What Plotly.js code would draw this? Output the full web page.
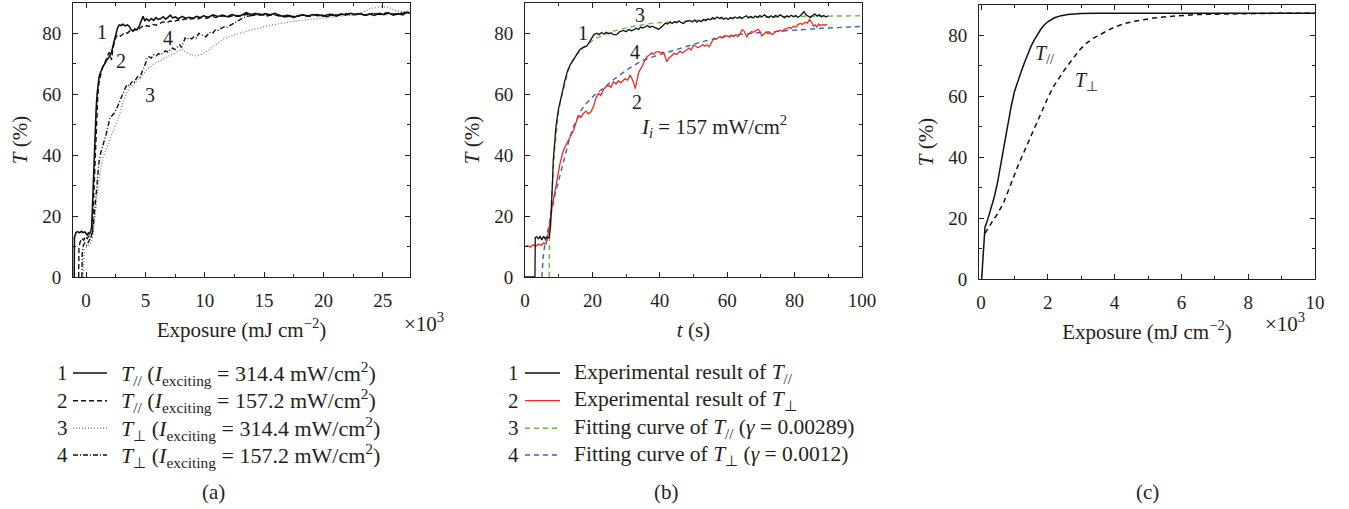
<!DOCTYPE html>
<html>
<head>
<meta charset="utf-8">
<script src="https://cdn.plot.ly/plotly-3.0.1.min.js"></script>
<style>
  html, body { margin: 0; padding: 0; background: #fff; }
  #chart { width: 1349px; height: 509px; }
</style>
</head>
<body>
<div id="chart"></div>
<script>
// ---------- (a) transmittance vs exposure (x in units of 10^3 mJ/cm^2) ----------
const aX1 = [-1.0,-0.98,-0.85,-0.7,-0.55,-0.4,-0.25,-0.1,0.0,0.1,0.2,0.3,0.4,0.47,0.55,0.62,0.7,0.77,0.85,0.93,1.0,1.1,1.2,1.3,1.45,1.6,1.75,1.9,2.05,2.15,2.25,2.35,2.45,2.55,2.65,2.8,2.95,3.1,3.3,3.5,3.65,3.8,3.95,4.1,4.3,4.5,4.65,4.8,4.95,5.1,5.3,5.5,5.7,5.9,6.1,6.3,6.5,6.7,6.9,7.1,7.3,7.5,7.8,8.1,8.4,8.7,9.0,9.3,9.6,9.9,10.3,10.7,11.1,11.5,11.9,12.3,12.7,13.1,13.5,13.9,14.3,14.7,15.1,15.5,15.9,16.3,16.7,17.1,17.5,17.9,18.3,18.7,19.1,19.5,19.9,20.3,20.7,21.1,21.5,21.9,22.3,22.7,23.1,23.5,23.9,24.3,24.7,25.1,25.5,25.9,26.3,26.7,27.0,27.3];
const aY1 = [0,13,14.6,14.9,14.5,15.0,14.6,14.8,14.3,13.8,14.5,14.2,15.1,16.2,24,32,41,48,55,60,63,65.8,67,68.2,69.3,70.2,71.4,72,73,73.8,75.6,77.2,78.6,80.4,81.8,82.8,82.6,83,82.5,82.8,82.3,81.2,80.8,81.5,81.2,82.6,84.3,85.6,84.2,84.8,84.1,84.9,84.3,85.2,84.6,84.9,85.5,84.7,85.3,86.0,85.1,85.4,84.8,85.6,85.0,85.3,84.9,85.6,85.2,85.8,85.3,86.1,85.6,86.0,85.5,86.2,85.7,86.0,86.8,86.2,86.6,86.0,86.5,86.1,86.6,85.9,85.4,85.7,85.3,85.8,86.1,85.7,86.2,85.8,86.0,85.5,86.1,85.7,86.4,86.0,86.6,86.2,86.5,86.0,86.4,85.9,86.6,86.2,86.7,86.0,86.5,86.1,87.0,86.6];

const aX2 = [-0.62,-0.6,-0.5,-0.35,-0.2,-0.05,0.1,0.25,0.4,0.5,0.58,0.66,0.74,0.82,0.9,0.98,1.08,1.2,1.35,1.5,1.65,1.8,1.95,2.05,2.15,2.25,2.35,2.45,2.6,2.75,2.9,3.1,3.3,3.5,3.7,3.9,4.1,4.3,4.5,4.7,4.9,5.1,5.3,5.6,5.9,6.2,6.5,6.8,7.1,7.4,7.7,8.0,8.3,8.6,9.0,9.4,9.8,10.2,10.6,11.0,11.5,12.0,12.5,13.0,13.5,14.0,14.6,15.2,15.8,16.4,17.0,17.6,18.2,18.8,19.4,20.0,20.6,21.2,21.8,22.4,23.0,23.6,24.2,24.8,25.4,26.0,26.6,27.2];
const aY2 = [0,9.5,11.5,12.8,12.1,13.4,12.6,13.5,12.8,14.5,20,28,37,46,53,59,63.5,66.2,68.5,69.6,71,72.3,73.8,72.6,71.3,74.8,76.5,78.2,79.2,79.6,79.1,79.8,80.4,80.1,80.9,80.5,81.3,81.0,81.8,82.3,82.0,82.6,82.3,83.0,82.7,83.3,83.8,83.5,84.1,83.8,84.4,84.1,84.8,84.5,85.0,84.7,85.3,85.0,85.6,85.2,85.8,85.4,86.0,85.6,86.3,85.9,86.4,85.8,86.2,85.6,85.9,85.4,86.0,85.6,86.1,85.7,86.3,85.9,86.5,86.1,86.4,86.0,86.6,86.2,86.8,86.3,86.7,87.0];

const aX3 = [-0.25,-0.22,-0.15,0.0,0.15,0.3,0.45,0.55,0.65,0.75,0.85,0.95,1.05,1.15,1.3,1.45,1.6,1.8,2.0,2.2,2.4,2.6,2.8,3.0,3.2,3.4,3.6,3.8,4.0,4.2,4.4,4.6,4.8,5.0,5.2,5.4,5.7,6.0,6.3,6.6,6.9,7.2,7.5,7.8,8.1,8.4,8.7,9.0,9.3,9.6,10.0,10.4,10.8,11.2,11.6,12.0,12.4,12.8,13.2,13.6,14.0,14.5,15.0,15.5,16.0,16.5,17.0,17.5,18.0,18.5,19.0,19.5,20.0,20.5,21.0,21.5,22.0,22.5,23.0,23.5,24.0,24.5,25.0,25.5,26.0,26.5,27.0,27.3];
const aY3 = [0,7,9,9.6,10.3,10.9,11.5,13,16,19.5,23,27,30,33.5,37,39.5,41,43,45,47,49,50.5,53,56,58.5,60.5,61.8,62.8,63.3,63.8,64.5,65.5,66.5,67.5,68.4,69,70,70.6,71.2,72,72.6,73.1,73.6,74.2,74.8,73.9,73.2,72.8,72.6,72.9,73.7,74.8,76,77.2,78.2,78.9,79.4,80,80.4,80.8,81.2,81.8,82.2,82.7,83.1,83.4,83.7,84,84.2,84.4,84.6,84.8,85,85.2,85.3,85.5,85.7,86.1,86.5,87.3,88.2,88.5,88.8,88.6,87.5,87.3,87.1,87.2];

const aX4 = [-0.35,-0.32,-0.22,-0.1,0.05,0.2,0.35,0.5,0.6,0.68,0.78,0.88,0.98,1.1,1.25,1.4,1.55,1.7,1.85,2.0,2.15,2.3,2.45,2.6,2.75,2.9,3.05,3.2,3.35,3.5,3.65,3.8,3.95,4.1,4.25,4.4,4.55,4.7,4.85,5.0,5.15,5.3,5.5,5.7,5.9,6.1,6.3,6.5,6.7,6.9,7.1,7.3,7.5,7.7,7.9,8.05,8.2,8.35,8.5,8.7,8.9,9.1,9.3,9.5,9.7,9.9,10.1,10.3,10.5,10.7,10.9,11.1,11.3,11.5,11.7,11.9,12.1,12.3,12.5,12.7,12.9,13.1,13.3,13.5,14.0,14.6,15.2,15.8,16.4,17.0,17.6,18.2,18.8,19.4,20.0,20.6,21.2,21.8,22.4,23.0,23.6,24.2,24.8,25.4,26.0,26.6,27.2];
const aY4 = [0,8,10.5,11.2,10.4,11.8,12.6,13.5,16,20,25,30,34,38,41,43.5,45,47,49.5,52,52.8,53.5,54.2,55.5,57,58.3,60,61.6,62.5,63.2,62.6,63.8,64.5,64,65.3,66,65.5,67.2,68.5,70,71.8,72.4,71.9,73,72.6,73.4,73,73.8,74.3,73.9,74.8,75.2,74.7,75.6,76.2,75.4,77,78.5,78,78.6,78.2,79,78.5,80.1,79.6,79.2,78.9,79.8,80.5,80.2,81.2,81,81.6,81.9,82.3,82.1,82.6,82.9,83.4,83.9,84.5,84.8,85.2,85.6,85.9,86.3,85.8,86.2,85.7,86.0,85.5,86.1,85.6,86.2,85.8,86.4,86.0,86.5,86.1,86.5,86.0,86.6,86.2,86.7,86.3,86.6,86.9];

// ---------- (b) transmittance vs time, experiment and fitted curves ----------
const bX1 = [0,2.95,3.05,3.5,4.0,4.5,5.0,5.5,6.0,6.5,7.0,7.2,7.6,7.9,8.15,8.4,8.8,9.2,9.9,10.9,11.9,12.6,13.4,14.4,15.3,16.3,17.3,18.3,19.0,19.8,20.5,21.3,22.0,22.7,23.4,24.1,24.8,25.5,26.2,27.2,28.0,29.2,30.0,30.8,31.5,32.2,33.0,33.7,34.3,35.0,35.7,36.3,37.0,37.7,38.3,39.0,39.6,40.3,41.0,41.7,42.3,43.0,43.7,44.3,45.0,45.7,46.3,47.0,47.7,48.3,49.0,49.7,50.3,51.0,51.7,52.3,53.0,53.7,54.3,55.0,55.7,56.3,57.0,57.7,58.3,59.0,59.7,60.3,61.0,61.7,62.3,63.0,63.7,64.3,65.0,65.7,66.3,67.0,67.7,68.3,69.0,69.7,70.3,71.0,71.7,72.3,73.0,73.7,74.3,75.0,75.7,76.3,77.0,77.7,78.3,79.0,79.7,80.3,81.0,81.7,82.3,82.8,83.3,84.0,84.7,85.3,86.0,86.7,87.3,88.0,88.7,89.3,90.0];
const bY1 = [0,0,13,13.2,12.6,13.3,12.2,13.4,12.5,13.1,12.8,13,17,23,31,38.5,44.5,49.4,55,60.4,64.8,67.6,69.7,71.4,73.2,74.7,75.4,75.8,77,78.5,79.7,80.1,79.6,80.3,79.8,80.4,79.9,80.2,79.6,79.6,80.5,81,80.6,81.3,80.9,81.2,81.7,81.3,82.1,81.8,82.3,82.6,82.0,82.4,82.1,81.6,81.4,81.9,82.6,83.4,83.1,83.7,83.3,83.9,83.5,84.1,83.6,83.3,83.9,84,84.2,83.8,84.4,83.7,84.3,83.9,84.6,84.2,84.8,84.5,85.2,84.8,85.4,84.9,85.3,84.7,85.1,84.6,85.2,84.8,85.4,85.0,85.5,84.9,85.3,85.8,85.2,85.6,85.1,85.7,85.3,85.9,85.4,86.1,85.6,85.2,85.8,85.3,85.9,85.5,86.1,85.6,85.2,85.8,85.4,86.0,85.5,85.9,85.3,85.8,86.4,87.2,86.2,85.6,85.2,85.9,86.4,85.7,86.1,85.5,85.9,85.4,85.8];

const bX2 = [0,0.8,1.6,2.4,3.2,4.0,4.8,5.6,6.2,6.6,7.0,7.4,7.9,8.4,8.9,9.4,9.9,10.4,10.9,11.4,12.1,12.9,13.6,14.4,15.1,15.8,16.5,17.3,18.1,18.8,19.5,20.3,21.0,21.8,22.5,23.3,24.0,24.8,25.5,26.2,27.0,27.7,28.4,29.1,29.7,30.4,31.2,31.7,32.2,32.7,33.2,33.7,34.2,34.7,35.4,36.1,36.8,37.5,38.1,38.8,39.6,40.3,41.1,41.6,42.1,42.6,43.1,43.6,44.3,45.0,46.0,46.7,47.3,48.0,48.7,49.3,50.0,50.7,51.3,52.0,52.7,53.3,54.0,54.7,55.3,56.0,56.7,57.3,57.9,58.6,59.2,59.9,60.6,61.2,61.9,62.6,63.2,63.9,64.4,64.9,65.4,65.8,66.4,67.1,67.8,68.5,69.3,69.8,70.3,70.8,71.5,72.1,72.8,73.4,74.3,75.0,75.7,76.4,77.0,77.7,78.4,79.0,79.7,80.4,81.0,81.7,82.3,83.2,83.8,84.4,84.7,85.1,85.6,86.1,86.6,87.1,87.6,88.2,88.8,89.6];
const bY2 = [10,10.3,9.8,10.6,10.1,10.8,10.4,11.2,10.8,12.4,15,18.6,22,25.2,28.5,31.8,34.6,37.3,39.5,41.6,43.2,45,46.4,48.2,50.6,53,52.4,53.7,54.5,53.6,54.2,55.9,58.6,60.3,59.6,61.7,62.4,63,62.3,64.1,63.4,64.5,63.8,64.7,65.2,64.6,66.3,65.2,64,61.9,64.5,67,68.2,69,70.8,72.3,72.8,73.6,73.1,73.9,74,73.6,73.8,72.4,70.7,71.8,72.4,72.9,73.5,73.1,74.2,73.6,74.1,74.5,75.2,74.6,76.2,75.8,75.3,75.7,76.3,75.9,76.2,75.6,77.1,78.4,78.1,78.7,79,78.5,79.3,79.2,78.8,79.5,79,79.6,78.9,80,81.2,81,79.8,78.9,79.8,80.6,80.4,81,81.3,80.5,79.2,79.6,80.4,80,80.2,79.6,80.5,80.8,81,80.7,81.4,81.6,82,81.7,82.4,82.1,82.9,83.3,83,83.7,83.4,84.6,84.2,83.5,82.4,82.8,82.1,83.1,82.6,82.9,82.7,83];

const bX3 = [7.2,7.25,7.5,7.8,8.1,8.4,8.8,9.3,9.9,10.6,11.4,12.1,12.9,13.8,14.9,16.5,18.3,20.2,22.3,25,28.2,33,38.1,45,53,60,70,80,90,100];
const bY3 = [0,12.2,17,24,30,36,42,48,53.8,58,61.5,65,68,70.5,72.5,74.7,76.3,77.8,79,80.3,81.4,82.5,83.4,84,84.5,85,85.4,85.6,85.7,85.8];

const bX4 = [5.0,5.2,5.45,5.8,6.2,6.8,7.4,8.1,8.9,9.6,10.4,11.4,12.4,13.4,14.4,15.6,16.8,18,19.3,21,23.3,26.2,30.2,34.2,38.1,43.1,48,52.9,58,64,70,76,82,88,94,100];
const bY4 = [0,3.5,7.2,10,12.2,15.5,18.8,23,27,30,33.5,38.5,42.9,46.3,49.4,52.5,55,56.8,58.2,60.2,62,64.8,68,70.8,72.4,74.1,75.8,77.4,78.6,79.7,80.3,80.8,81.3,81.7,82,82.3];

// ---------- (c) calculated transmittance vs exposure (x in units of 10^3 mJ/cm^2) ----------
const cX1 = [0,0.02,0.06,0.12,0.2,0.3,0.4,0.5,0.6,0.7,0.8,0.9,1.0,1.1,1.2,1.3,1.4,1.5,1.6,1.7,1.8,1.9,2.0,2.2,2.4,2.6,2.8,3.0,3.5,4,5,6,8,10];
const cY1 = [0,0,7,17,19.5,23,27,32,38,44,51,56.5,61.5,65,68,71,73.8,76.5,78.6,80.6,82.2,83.5,84.5,85.8,86.5,86.9,87.1,87.2,87.25,87.3,87.3,87.3,87.3,87.3];
const cX2 = [0.12,0.2,0.37,0.5,0.67,0.8,0.97,1.1,1.27,1.4,1.57,1.7,1.87,2.0,2.17,2.3,2.47,2.6,2.76,2.95,3.16,3.35,3.56,3.8,4.06,4.3,4.56,4.85,5.16,5.6,6.06,6.5,7.06,8,9,10];
const cY2 = [15,16.5,19.4,21.5,24.9,28.5,33.6,37,41.3,44.6,49,52.4,56.7,59.5,63.2,65.5,68.2,70.2,72.5,75.2,77.5,79,80.2,81.7,83,83.9,84.6,85.2,85.7,86.2,86.6,86.9,87,87.2,87.3,87.3];

// ---------- text ----------
const legendA = [
  ['1', '<i>T</i><sub>//</sub> (<i>I</i><sub>exciting</sub> = 314.4 mW/cm<sup>2</sup>)'],
  ['2', '<i>T</i><sub>//</sub> (<i>I</i><sub>exciting</sub> = 157.2 mW/cm<sup>2</sup>)'],
  ['3', '<i>T</i><sub>⊥</sub> (<i>I</i><sub>exciting</sub> = 314.4 mW/cm<sup>2</sup>)'],
  ['4', '<i>T</i><sub>⊥</sub> (<i>I</i><sub>exciting</sub> = 157.2 mW/cm<sup>2</sup>)']
];
const legendB = [
  ['1', 'Experimental result of <i>T</i><sub>//</sub>'],
  ['2', 'Experimental result of <i>T</i><sub>⊥</sub>'],
  ['3', 'Fitting curve of <i>T</i><sub>//</sub> (<i>γ</i> = 0.00289)'],
  ['4', 'Fitting curve of <i>T</i><sub>⊥</sub> (<i>γ</i> = 0.0012)']
];
const curveLabelsA = [['1', 1.32, 80.5], ['2', 2.95, 71], ['3', 5.4, 59.8], ['4', 6.9, 78.4]];
const curveLabelsB = [['1', 17.3, 80], ['3', 34.2, 86.2], ['4', 32.7, 74], ['2', 33.2, 57.5]];
const curveLabelsC = [['<i>T</i><sub>//</sub>', 1.9, 73.6], ['<i>T</i><sub>⊥</sub>', 3.15, 64.9]];

// ---------- styling ----------
const FONT = 'Liberation Serif';
const INK = '#231f20';
const W = 1349, H = 509;
const px = v => v / W;
const py = v => 1 - v / H;

const styleA = [
  {color: '#111', width: 1.6, dash: 'solid'},
  {color: '#111', width: 1.4, dash: '5px,3px'},
  {color: '#8a8a8a', width: 1.4, dash: '1px,2px'},
  {color: '#111', width: 1.4, dash: '5px,2px,1px,2px'}
];
const styleB = [
  {color: '#111', width: 1.3, dash: 'solid'},
  {color: '#ee2a24', width: 1.3, dash: 'solid'},
  {color: '#62bd45', width: 1.4, dash: '5px,4px'},
  {color: '#3b62c4', width: 1.4, dash: '5px,4px'}
];

const traces = [];
[[aX1, aY1], [aX2, aY2], [aX3, aY3], [aX4, aY4]].forEach((d, i) => {
  traces.push({x: d[0], y: d[1], xaxis: 'x', yaxis: 'y', mode: 'lines',
    line: styleA[i], hoverinfo: 'skip', showlegend: false});
});
// draw order in (b): fits under the measured curves
[[bX3, bY3, 2], [bX4, bY4, 3], [bX2, bY2, 1], [bX1, bY1, 0]].forEach(d => {
  traces.push({x: d[0], y: d[1], xaxis: 'x2', yaxis: 'y2', mode: 'lines',
    line: styleB[d[2]], hoverinfo: 'skip', showlegend: false});
});
traces.push({x: cX1, y: cY1, xaxis: 'x3', yaxis: 'y3', mode: 'lines',
  line: {color: '#111', width: 1.5}, hoverinfo: 'skip', showlegend: false});
traces.push({x: cX2, y: cY2, xaxis: 'x3', yaxis: 'y3', mode: 'lines',
  line: {color: '#111', width: 1.5, dash: '5px,4px'}, hoverinfo: 'skip', showlegend: false});

function xAxis(dom, range, dtick, minor, anchor, title) {
  return {
    domain: dom, range: range, anchor: anchor, tick0: 0, dtick: dtick,
    ticks: 'inside', ticklen: 5, tickwidth: 1, tickcolor: INK,
    minor: {dtick: minor, ticks: 'inside', ticklen: 3, tickwidth: 1, tickcolor: INK},
    showline: true, linecolor: INK, linewidth: 1, mirror: 'ticks',
    showgrid: false, zeroline: false, ticklabelstandoff: 6,
    tickfont: {family: FONT, size: 19, color: INK},
    title: {text: title, standoff: 12, font: {family: FONT, size: 21, color: INK}}
  };
}
function yAxis(dom, anchor) {
  return {
    domain: dom, range: [0, 90], anchor: anchor, tick0: 0, dtick: 20,
    ticks: 'inside', ticklen: 5, tickwidth: 1, tickcolor: INK,
    minor: {dtick: 10, ticks: 'inside', ticklen: 3, tickwidth: 1, tickcolor: INK},
    showline: true, linecolor: INK, linewidth: 1, mirror: 'ticks',
    showgrid: false, zeroline: false, ticklabelstandoff: 7,
    tickfont: {family: FONT, size: 19, color: INK},
    title: {text: '<i>T</i> (%)', standoff: 8, font: {family: FONT, size: 21, color: INK}}
  };
}

const expTitle = 'Exposure (mJ cm<sup>−2</sup>)';
const layout = {
  width: W, height: H,
  margin: {l: 0, r: 0, t: 0, b: 0},
  paper_bgcolor: '#fff', plot_bgcolor: '#fff',
  showlegend: false,
  font: {family: FONT, color: INK},
  xaxis: xAxis([px(73), px(410)], [-1.1, 27.3], 5, 2.5, 'y', expTitle),
  yaxis: yAxis([py(277), py(3)], 'x'),
  xaxis2: xAxis([px(525), px(862)], [0, 100], 20, 10, 'y2', '<i>t</i> (s)'),
  yaxis2: yAxis([py(277), py(3)], 'x2'),
  xaxis3: xAxis([px(979), px(1315)], [-0.06, 10], 2, 1, 'y3', expTitle),
  yaxis3: yAxis([py(279), py(5)], 'x3'),
  annotations: [],
  shapes: []
};

const ann = layout.annotations;
const txt = (s, o) => Object.assign({text: s, showarrow: false,
  font: {family: FONT, size: 21, color: INK}}, o);

// curve numbers inside the panels
curveLabelsA.forEach(l => ann.push(txt(l[0], {x: l[1], y: l[2], xref: 'x', yref: 'y', font: {family: FONT, size: 20, color: INK}})));
curveLabelsB.forEach(l => ann.push(txt(l[0], {x: l[1], y: l[2], xref: 'x2', yref: 'y2', font: {family: FONT, size: 20, color: INK}})));
curveLabelsC.forEach(l => ann.push(txt(l[0], {x: l[1], y: l[2], xref: 'x3', yref: 'y3', font: {family: FONT, size: 20, color: INK}})));
ann.push(txt('<i>I<sub>i</sub></i> = 157 mW/cm<sup>2</sup>', {x: 56, y: 49.5, xref: 'x2', yref: 'y2'}));

// multipliers under the exposure axes
ann.push(txt('×10<sup>3</sup>', {x: px(402), y: py(322), xref: 'paper', yref: 'paper'}));
ann.push(txt('×10<sup>3</sup>', {x: px(1307), y: py(322), xref: 'paper', yref: 'paper'}));

// keys below panels (a) and (b)
const rowY = [373, 400.7, 428.3, 455];
function key(list, styles, numX, lineX0, lineX1, textX, size) {
  list.forEach((row, i) => {
    ann.push(txt(row[0], {x: px(numX), y: py(rowY[i]), xref: 'paper', yref: 'paper', xanchor: 'center', yanchor: 'middle'}));
    ann.push(txt(row[1], {x: px(textX), y: py(rowY[i]), xref: 'paper', yref: 'paper', xanchor: 'left', yanchor: 'middle',
      font: {family: FONT, size: size, color: INK}}));
    layout.shapes.push({type: 'line', xref: 'paper', yref: 'paper',
      x0: px(lineX0), x1: px(lineX1), y0: py(rowY[i]), y1: py(rowY[i]),
      line: {color: styles[i].color, width: styles[i].width, dash: styles[i].dash}});
  });
}
key(legendA, styleA, 62, 73, 107, 119, 22);
key(legendB, styleB, 513, 525, 560, 572, 21.5);

// panel captions
[['(a)', 213], ['(b)', 666], ['(c)', 1147]].forEach(c =>
  ann.push(txt(c[0], {x: px(c[1]), y: py(492), xref: 'paper', yref: 'paper', xanchor: 'center', yanchor: 'middle'})));

Plotly.newPlot('chart', traces, layout, {staticPlot: true, displayModeBar: false});
</script>
</body>
</html>
